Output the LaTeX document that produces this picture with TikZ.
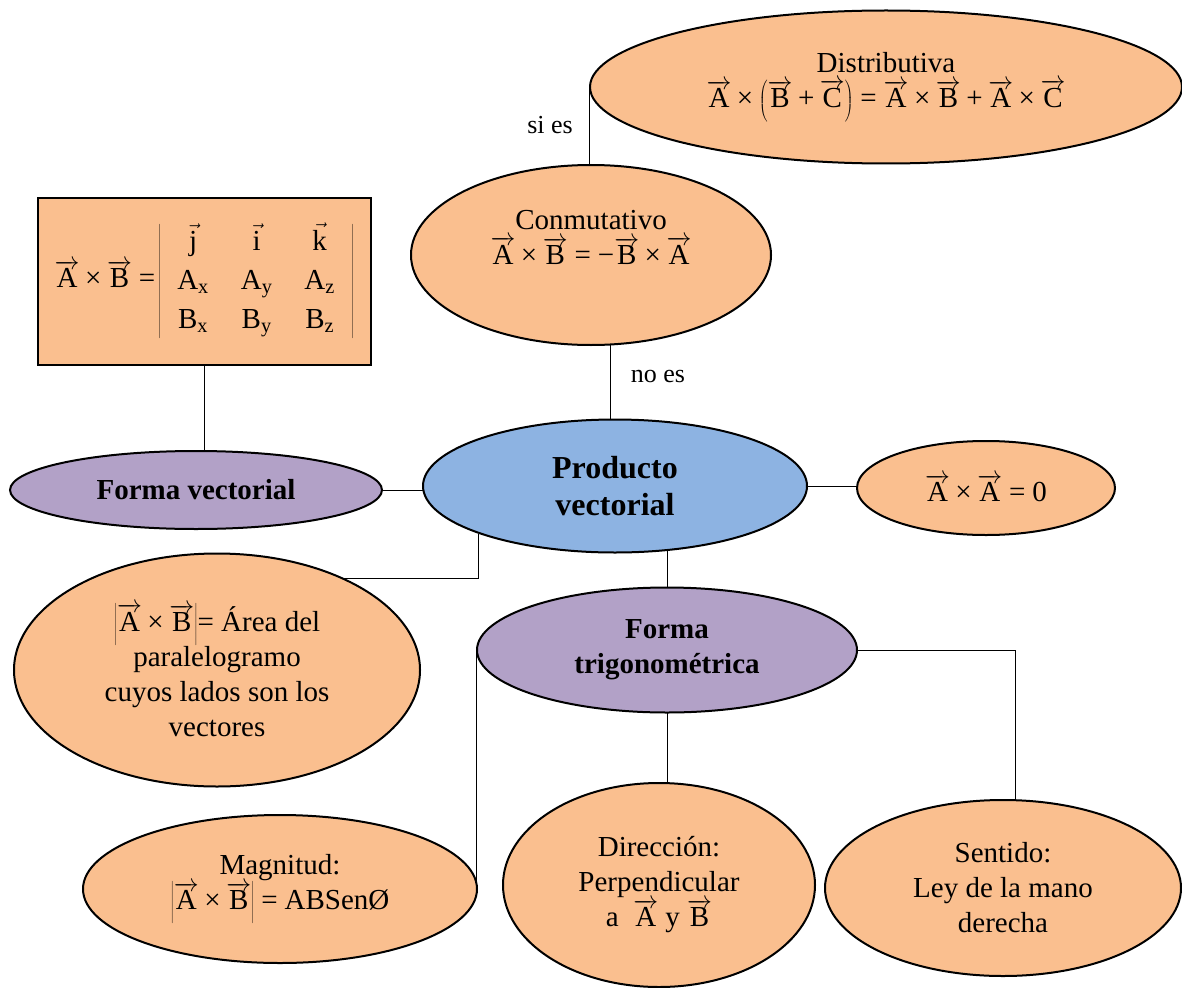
\documentclass[tikz,border=0pt]{standalone}
\usepackage{fontspec}
\setmainfont{Liberation Serif}
\usetikzlibrary{shapes.geometric,backgrounds}
\definecolor{naranja}{RGB}{250,191,143}
\definecolor{azul}{RGB}{141,179,226}
\definecolor{lila}{RGB}{178,161,199}
\newcommand{\va}[1]{\overrightarrow{\mbox{#1}}}
\newcommand{\por}{\mathbin{\mbox{×}}}
\newcommand{\igual}{\mathrel{\mbox{=}}}
\newcommand{\mas}{\mathbin{\mbox{+}}}

\begin{document}
\begin{tikzpicture}[x=1pt,y=-1pt,
    burbuja/.style={ellipse, draw, line width=2pt, fill=naranja, inner sep=0pt,
        align=center, font=\fontsize{29}{35}\selectfont},
    titulo/.style={burbuja, fill=lila, font=\fontsize{29}{35}\selectfont\bfseries},
    etiqueta/.style={font=\fontsize{26}{30}\selectfont}
]
\useasboundingbox (0,0) rectangle (1182,987);

% nodos
\node[burbuja, minimum width=592, minimum height=153] (distr) at (886,87)
    {Distributiva\\ $\va{A}\por\left(\va{B}\mas\va{C}\right) \igual \va{A}\por\va{B}\mas\va{A}\por\va{C}$};
\node[burbuja, minimum width=360, minimum height=180, text depth=36pt] (conm) at (591,255)
    {Conmutativo\\ $\va{A}\por\va{B} \igual \mbox{−}\va{B}\por\va{A}$};
\node[burbuja, fill=azul, font=\fontsize{32}{37}\selectfont\bfseries,
    minimum width=384, minimum height=133] (prod) at (615,486) {Producto\\ vectorial};
\node[titulo, minimum width=372, minimum height=78] (fvec) at (196,490) {Forma vectorial};
\node[draw, line width=2.5pt, fill=naranja, minimum width=333, minimum height=167,
    font=\fontsize{29}{35}\selectfont] (matriz) at (204.5,281.5)
    {\setlength{\arraycolsep}{16pt}\renewcommand{\arraystretch}{1.12}%
     $\va{A}\por\va{B} \igual\!\left|\begin{array}{ccc}
        \vec{\mbox{j}} & \vec{\mbox{i}} & \vec{\mbox{k}}\\
        \mbox{A}_{\mathrm{x}} & \mbox{A}_{\mathrm{y}} & \mbox{A}_{\mathrm{z}}\\
        \mbox{B}_{\mathrm{x}} & \mbox{B}_{\mathrm{y}} & \mbox{B}_{\mathrm{z}}
     \end{array}\right|$};
\node[burbuja, minimum width=258, minimum height=94] (aa) at (986,488)
    {$\va{A}\por\va{A} \igual \mbox{0}$};
\node[burbuja, minimum width=406, minimum height=233] (area) at (217,670)
    {$\left|\va{A}\por\va{B}\right|$= Área del\\ paralelogramo\\ cuyos lados son los\\ vectores};
\node[titulo, minimum width=380, minimum height=125] (trig) at (667,650) {Forma\\ trigonométrica};
\node[burbuja, minimum width=394, minimum height=148] (magn) at (280,889)
    {Magnitud:\\ $\left|\va{A}\por\va{B}\right| \igual \mbox{ABSenØ}$};
\node[burbuja, minimum width=312, minimum height=204] (dir) at (659,885)
    {Dirección:\\ Perpendicular\\ a \ $\va{A}$ y $\va{B}$};
\node[burbuja, minimum width=356, minimum height=176] (sent) at (1003,888)
    {Sentido:\\ Ley de la mano\\ derecha};

\node[etiqueta] (sies) at (550,125) {si es};
\node[etiqueta] (noes) at (658,376) {no es};

% conectores
\begin{scope}[on background layer, line width=1.8pt]
\draw (distr.west) -- (distr.west |- conm.center);
\draw ([xshift=-5pt]prod.center) -- ([xshift=-5pt]prod.center |- conm.center);
\draw (matriz.south) -- (matriz.south |- fvec.center);
\draw (fvec.center) -- (fvec.center -| prod.center);
\draw (prod.center) -- (prod.center -| aa.center);
\draw (prod.south west) |- (area.36);
\draw (trig.north) -- (trig.north |- prod.center);
\draw (trig.west) -- (trig.west |- magn.center);
\draw (trig.center) -- (trig.center |- dir.center);
\draw (trig.center) -| ([xshift=12pt]sent.center);
\end{scope}
\end{tikzpicture}
\end{document}
